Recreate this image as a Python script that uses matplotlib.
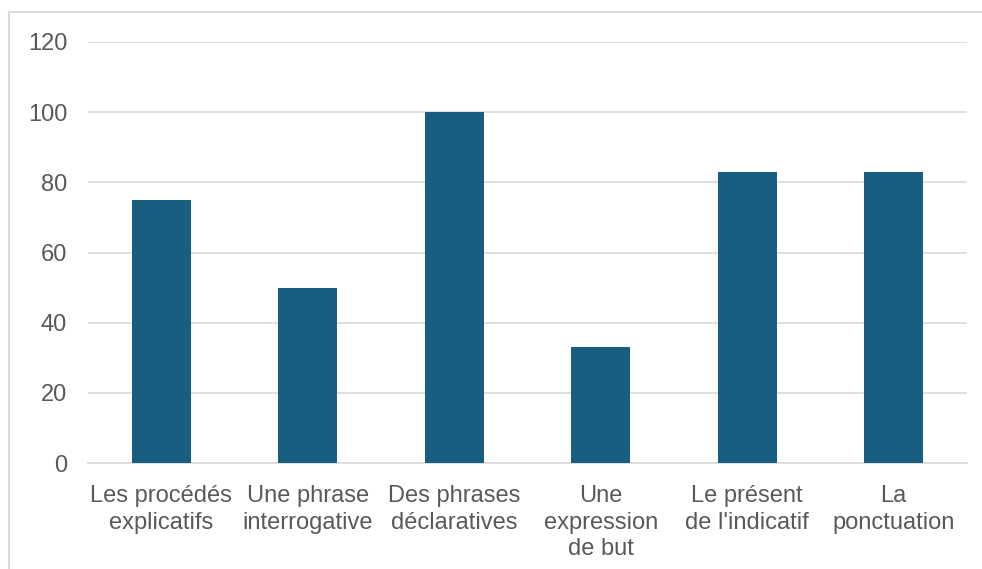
import matplotlib.pyplot as plt
from matplotlib.patches import Rectangle

categories = ["Les procédés\nexplicatifs", "Une phrase\ninterrogative",
              "Des phrases\ndéclaratives", "Une\nexpression\nde but",
              "Le présent\nde l'indicatif", "La\nponctuation"]
values = [75, 50, 100, 33, 83, 83]
y_ticks = [0, 20, 40, 60, 80, 100, 120]

plt.rcParams['font.family'] = ['Liberation Sans', 'DejaVu Sans']

fig = plt.figure(figsize=(9.82, 5.69), dpi=100)
ax = fig.add_axes([88 / 982, 1 - 463 / 569, (967 - 88) / 982, (463 - 42) / 569])

# cadre gris autour du graphique
fig.patches.append(Rectangle((9 / 982, -0.1), 1.1, 1 - 12 / 569 + 0.1,
                             transform=fig.transFigure, fill=False,
                             edgecolor='#D9D9D9', linewidth=1.5))

x = range(len(categories))
ax.bar(x, values, width=0.4, color='#175E80', zorder=3)

ax.set_xlim(-0.5, len(categories) - 0.5)
ax.set_ylim(0, 120)
ax.set_yticks(y_ticks)
ax.set_xticks(list(x))
ax.set_xticklabels(categories, linespacing=1.27)

ax.grid(True, axis='y', color='#D9D9D9', linewidth=1.2, zorder=0)
for s in ('top', 'right', 'left'):
    ax.spines[s].set_visible(False)
ax.spines['bottom'].set_color('#D9D9D9')
ax.spines['bottom'].set_linewidth(1.2)

ax.tick_params(axis='both', length=0, colors='#595959', labelsize=17)
ax.tick_params(axis='y', pad=15)
ax.tick_params(axis='x', pad=16)

fig.savefig('out.png', dpi=100)
